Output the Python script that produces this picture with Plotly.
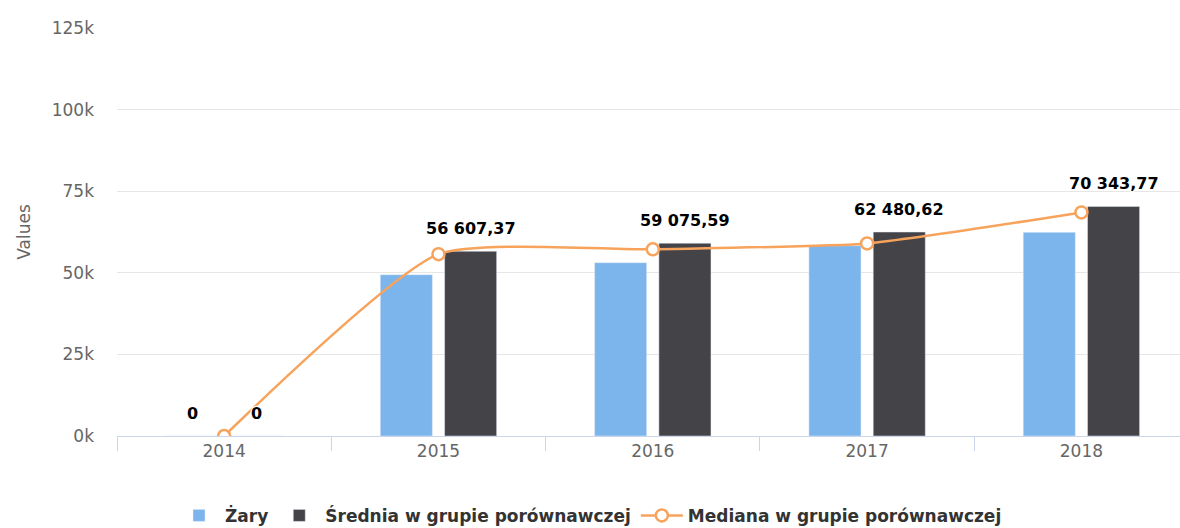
import plotly.graph_objects as go

years = ["2014", "2015", "2016", "2017", "2018"]
zary = [0, 49400, 53100, 58300, 62400]
srednia = [0, 56607.37, 59075.59, 62480.62, 70343.77]
mediana = [0, 55700, 57200, 59000, 68500]
zary_label_shown = [True, False, False, False, False]
srednia_label_shown = [True, True, True, True, True]
y_ticks = [0, 25000, 50000, 75000, 100000, 125000]
y_tick_labels = ["0k", "25k", "50k", "75k", "100k", "125k"]

C_ZARY = "#7cb5ec"
C_SRED = "#434348"
C_MED = "#f7a35c"
FONT = "DejaVu Sans"


def fmt(v):
    s = f"{v:,.2f}"
    ip, dp = s.split(".")
    ip = ip.replace(",", " ")
    if dp == "00":
        return ip
    return ip + "," + dp


fig = go.Figure()
fig.add_trace(go.Bar(x=years, y=zary, name="Żary", marker_color=C_ZARY))
fig.add_trace(go.Bar(x=years, y=srednia, name="Średnia w grupie porównawczej", marker_color=C_SRED))
fig.add_trace(go.Scatter(
    x=years, y=mediana, name="Mediana w grupie porównawczej",
    mode="lines+markers", line=dict(color=C_MED, width=2.5, shape="spline", smoothing=0.55),
    marker=dict(symbol="circle", size=12, color="white", line=dict(color=C_MED, width=2.5)),
))

shadow = "1px 1px 1px white, -1px -1px 1px white, 1px -1px 1px white, -1px 1px 1px white"
annotations = []
for i, y in enumerate(years):
    if zary_label_shown[i]:
        annotations.append(dict(x=i - 0.15, y=zary[i], xref="x", yref="y", text=fmt(zary[i]),
                                showarrow=False, yshift=23, yanchor="middle",
                                font=dict(family=FONT, size=16, color="#000000", weight="bold", shadow=shadow)))
    if srednia_label_shown[i]:
        annotations.append(dict(x=i + 0.15, y=srednia[i], xref="x", yref="y", text=fmt(srednia[i]),
                                showarrow=False, yshift=23, yanchor="middle",
                                font=dict(family=FONT, size=16, color="#000000", weight="bold", shadow=shadow)))

fig.update_layout(
    width=1180, height=528,
    margin=dict(l=117, r=0, t=28, b=92, autoexpand=False),
    paper_bgcolor="white", plot_bgcolor="white",
    barmode="group", bargap=0.4, bargroupgap=0.19,
    font=dict(family=FONT, color="#666666"),
    annotations=annotations,
    legend=dict(orientation="h", xref="container", yref="container", x=0.5, xanchor="center",
                y=0.023, yanchor="middle",
                font=dict(family=FONT, size=17, color="#333333", weight="bold"),
                itemwidth=42, tracegroupgap=0),
    showlegend=True,
)
fig.update_xaxes(
    type="category", range=[-0.5, 4.46], automargin=False,
    showline=True, linecolor="#ccd6eb", linewidth=1,
    ticks="outside", tickson="boundaries", ticklen=14, tickcolor="#ccd6eb",
    tickfont=dict(family=FONT, size=17, color="#666666"),
    showgrid=False, zeroline=False,
)
fig.update_yaxes(
    range=[0, 125000], tickvals=y_ticks, ticktext=y_tick_labels, automargin=False,
    showgrid=True, gridcolor="#e6e6e6", gridwidth=1,
    showline=False, zeroline=False,
    ticks="", ticklabelstandoff=22,
    tickfont=dict(family=FONT, size=17, color="#666666"),
    title=dict(text="Values", font=dict(family=FONT, size=17, color="#666666"), standoff=16),
)

fig.write_html("out.html", config={"displayModeBar": False},
               post_script="document.body.style.margin='0';document.body.style.overflow='hidden';")
